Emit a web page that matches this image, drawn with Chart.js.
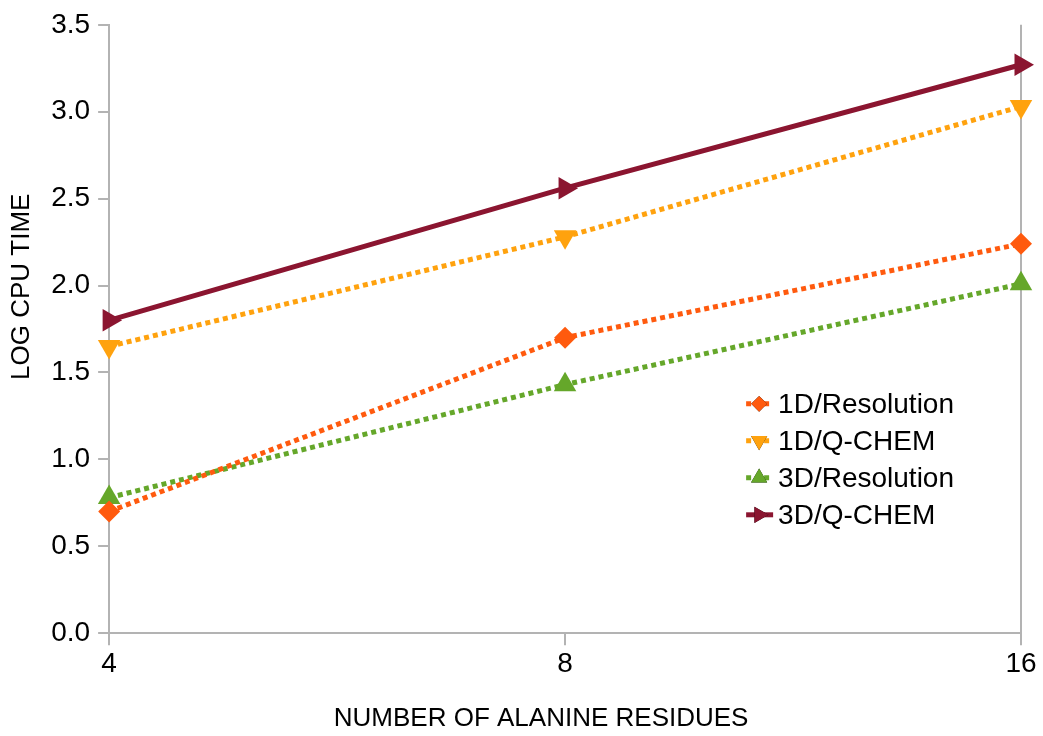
<!DOCTYPE html>
<html lang="en">
<head>
    <script src="https://cdn.jsdelivr.net/npm/chart.js"></script>
    <style>
        html, body { margin: 0; padding: 0; background: #fff; }
        #wrap { width: 1043px; height: 736px; }
    </style>
</head>
<body>
    <div id="wrap"><canvas id="cpuChart"></canvas></div>

    <script>
        const residues = ['4', '8', '16'];
        const res1D = [0.70, 1.70, 2.24];
        const qchem1D = [1.65, 2.28, 3.03];
        const res3D = [0.78, 1.43, 2.01];
        const qchem3D = [1.80, 2.56, 3.27];
        const yTicks = [0, 0.5, 1.0, 1.5, 2.0, 2.5, 3.0, 3.5];

        const FONT = "'Liberation Sans', Arial, sans-serif";
        const AXIS = '#b3b3b3';
        const Y_TITLE = 'LOG CPU TIME';
        const X_TITLE = 'NUMBER OF ALANINE RESIDUES';

        const series = [
            { label: '1D/Resolution', data: res1D, color: '#ff5a0e', dash: [5, 4], width: 5, style: 'rectRot', rot: 0, r: 11 },
            { label: '1D/Q-CHEM', data: qchem1D, color: '#ffa20e', dash: [5, 4], width: 5, style: 'triangle', rot: 180, r: 13 },
            { label: '3D/Resolution', data: res3D, color: '#65a72a', dash: [5, 4], width: 5, style: 'triangle', rot: 0, r: 13 },
            { label: '3D/Q-CHEM', data: qchem3D, color: '#8b1530', dash: [], width: 5, style: 'triangle', rot: 90, r: 13 }
        ];

        // legend drawn inside the plot, like the original
        const insideLegend = {
            id: 'insideLegend',
            afterDraw(chart) {
                const c = chart.ctx;
                const area = chart.chartArea;
                const x0 = area.left + 637;
                let y = area.top + 379;
                c.save();
                series.forEach(s => {
                    c.strokeStyle = s.color;
                    c.lineWidth = 5;
                    c.setLineDash(s.dash);
                    c.beginPath();
                    c.moveTo(x0, y);
                    c.lineTo(x0 + 27, y);
                    c.stroke();
                    c.setLineDash([]);
                    Chart.helpers.drawPoint(c, {
                        pointStyle: s.style, rotation: s.rot, radius: s.r * 0.72, borderWidth: 0
                    }, x0 + 13, y);
                    c.fillStyle = s.color;
                    c.fill();
                    c.fillStyle = '#000';
                    c.font = '28px ' + FONT;
                    c.textBaseline = 'middle';
                    c.fillText(s.label, x0 + 32, y + 1);
                    y += 37;
                });
                // axis titles are a little off-centre in the original
                c.font = '26px ' + FONT;
                c.textAlign = 'center';
                c.fillText(X_TITLE, area.left + 432, area.bottom + 86);
                c.translate(22, area.top + 262);
                c.rotate(-Math.PI / 2);
                c.fillText(Y_TITLE, 0, 0);
                c.restore();
            }
        };

        const ctx = document.getElementById('cpuChart').getContext('2d');
        new Chart(ctx, {
            type: 'line',
            data: {
                labels: residues,
                datasets: series.map(s => ({
                    label: s.label,
                    data: s.data,
                    borderColor: s.color,
                    backgroundColor: s.color,
                    borderWidth: s.width,
                    borderDash: s.dash,
                    borderCapStyle: 'butt',
                    pointStyle: s.style,
                    pointRotation: s.rot,
                    pointRadius: s.r,
                    pointHoverRadius: s.r,
                    pointBorderWidth: 0,
                    tension: 0,
                    fill: false
                }))
            },
            options: {
                responsive: true,
                maintainAspectRatio: false,
                animation: false,
                layout: { padding: { top: 14, right: 22, left: 4, bottom: 2 } },
                scales: {
                    x: {
                        offset: false,
                        grid: {
                            color: c => c.index === 2 ? AXIS : 'rgba(0,0,0,0)',
                            tickColor: AXIS,
                            tickLength: 12,
                            lineWidth: 2
                        },
                        border: { color: AXIS, width: 2 },
                        ticks: { color: '#000', font: { family: FONT, size: 28 }, padding: 2, maxRotation: 0 },
                        title: { display: true, text: X_TITLE, color: 'rgba(0,0,0,0)', font: { family: FONT, size: 26 }, padding: { top: 20, bottom: 0 } }
                    },
                    y: {
                        min: 0,
                        max: 3.5,
                        afterBuildTicks: axis => { axis.ticks = yTicks.map(v => ({ value: v })); },
                        grid: { drawOnChartArea: false, color: AXIS, tickLength: 11, lineWidth: 2 },
                        border: { color: AXIS, width: 2 },
                        ticks: { color: '#000', font: { family: FONT, size: 28 }, padding: 8, callback: v => Number(v).toFixed(1) },
                        title: { display: true, text: Y_TITLE, color: 'rgba(0,0,0,0)', font: { family: FONT, size: 26 }, padding: { top: 0, bottom: 8 } }
                    }
                },
                plugins: {
                    legend: { display: false },
                    tooltip: { enabled: false }
                }
            },
            plugins: [insideLegend]
        });
    </script>
</body>
</html>
